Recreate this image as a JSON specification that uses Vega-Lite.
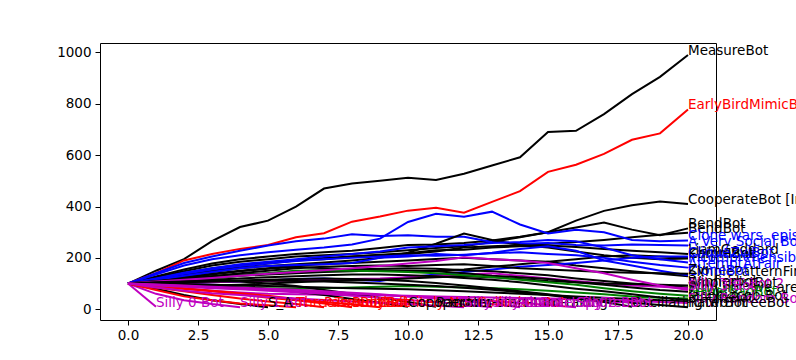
{
"$schema": "https://vega.github.io/schema/vega-lite/v6.json",
"width": 616, "height": 277,
"autosize": {"type": "none"},
"padding": {"left": 100, "top": 43, "right": 80, "bottom": 40},
"background": "white",
"config": {"view": {"stroke": "black", "strokeWidth": 1}, "font": "DejaVu Sans"},
"data": {"values": [
{"b":"MeasureBot","t":"k","r":0,"p":100},{"b":"MeasureBot","t":"k","r":1,"p":150},{"b":"MeasureBot","t":"k","r":2,"p":195},{"b":"MeasureBot","t":"k","r":3,"p":265},{"b":"MeasureBot","t":"k","r":4,"p":320},{"b":"MeasureBot","t":"k","r":5,"p":345},{"b":"MeasureBot","t":"k","r":6,"p":400},{"b":"MeasureBot","t":"k","r":7,"p":470},{"b":"MeasureBot","t":"k","r":8,"p":490},{"b":"MeasureBot","t":"k","r":9,"p":500},{"b":"MeasureBot","t":"k","r":10,"p":512},{"b":"MeasureBot","t":"k","r":11,"p":503},{"b":"MeasureBot","t":"k","r":12,"p":528},{"b":"MeasureBot","t":"k","r":13,"p":560},{"b":"MeasureBot","t":"k","r":14,"p":592},{"b":"MeasureBot","t":"k","r":15,"p":690},{"b":"MeasureBot","t":"k","r":16,"p":695},{"b":"MeasureBot","t":"k","r":17,"p":760},{"b":"MeasureBot","t":"k","r":18,"p":838},{"b":"MeasureBot","t":"k","r":19,"p":905},{"b":"MeasureBot","t":"k","r":20,"p":990},
{"b":"EarlyBirdMimicBot","t":"r","r":0,"p":100},{"b":"EarlyBirdMimicBot","t":"r","r":1,"p":140},{"b":"EarlyBirdMimicBot","t":"r","r":2,"p":190},{"b":"EarlyBirdMimicBot","t":"r","r":3,"p":215},{"b":"EarlyBirdMimicBot","t":"r","r":4,"p":235},{"b":"EarlyBirdMimicBot","t":"r","r":5,"p":250},{"b":"EarlyBirdMimicBot","t":"r","r":6,"p":280},{"b":"EarlyBirdMimicBot","t":"r","r":7,"p":296},{"b":"EarlyBirdMimicBot","t":"r","r":8,"p":341},{"b":"EarlyBirdMimicBot","t":"r","r":9,"p":361},{"b":"EarlyBirdMimicBot","t":"r","r":10,"p":384},{"b":"EarlyBirdMimicBot","t":"r","r":11,"p":395},{"b":"EarlyBirdMimicBot","t":"r","r":12,"p":376},{"b":"EarlyBirdMimicBot","t":"r","r":13,"p":418},{"b":"EarlyBirdMimicBot","t":"r","r":14,"p":460},{"b":"EarlyBirdMimicBot","t":"r","r":15,"p":535},{"b":"EarlyBirdMimicBot","t":"r","r":16,"p":563},{"b":"EarlyBirdMimicBot","t":"r","r":17,"p":605},{"b":"EarlyBirdMimicBot","t":"r","r":18,"p":660},{"b":"EarlyBirdMimicBot","t":"r","r":19,"p":685},{"b":"EarlyBirdMimicBot","t":"r","r":20,"p":778},
{"b":"CooperateBot [Insub]","t":"k","r":0,"p":100},{"b":"CooperateBot [Insub]","t":"k","r":1,"p":128},{"b":"CooperateBot [Insub]","t":"k","r":2,"p":155},{"b":"CooperateBot [Insub]","t":"k","r":3,"p":178},{"b":"CooperateBot [Insub]","t":"k","r":4,"p":195},{"b":"CooperateBot [Insub]","t":"k","r":5,"p":205},{"b":"CooperateBot [Insub]","t":"k","r":6,"p":215},{"b":"CooperateBot [Insub]","t":"k","r":7,"p":222},{"b":"CooperateBot [Insub]","t":"k","r":8,"p":228},{"b":"CooperateBot [Insub]","t":"k","r":9,"p":238},{"b":"CooperateBot [Insub]","t":"k","r":10,"p":250},{"b":"CooperateBot [Insub]","t":"k","r":11,"p":252},{"b":"CooperateBot [Insub]","t":"k","r":12,"p":258},{"b":"CooperateBot [Insub]","t":"k","r":13,"p":268},{"b":"CooperateBot [Insub]","t":"k","r":14,"p":282},{"b":"CooperateBot [Insub]","t":"k","r":15,"p":300},{"b":"CooperateBot [Insub]","t":"k","r":16,"p":345},{"b":"CooperateBot [Insub]","t":"k","r":17,"p":383},{"b":"CooperateBot [Insub]","t":"k","r":18,"p":405},{"b":"CooperateBot [Insub]","t":"k","r":19,"p":420},{"b":"CooperateBot [Insub]","t":"k","r":20,"p":410},
{"b":"BendBot","t":"k","r":0,"p":100},{"b":"BendBot","t":"k","r":1,"p":125},{"b":"BendBot","t":"k","r":2,"p":148},{"b":"BendBot","t":"k","r":3,"p":170},{"b":"BendBot","t":"k","r":4,"p":185},{"b":"BendBot","t":"k","r":5,"p":195},{"b":"BendBot","t":"k","r":6,"p":205},{"b":"BendBot","t":"k","r":7,"p":210},{"b":"BendBot","t":"k","r":8,"p":215},{"b":"BendBot","t":"k","r":9,"p":222},{"b":"BendBot","t":"k","r":10,"p":230},{"b":"BendBot","t":"k","r":11,"p":238},{"b":"BendBot","t":"k","r":12,"p":245},{"b":"BendBot","t":"k","r":13,"p":262},{"b":"BendBot","t":"k","r":14,"p":280},{"b":"BendBot","t":"k","r":15,"p":300},{"b":"BendBot","t":"k","r":16,"p":318},{"b":"BendBot","t":"k","r":17,"p":338},{"b":"BendBot","t":"k","r":18,"p":310},{"b":"BendBot","t":"k","r":19,"p":288},{"b":"BendBot","t":"k","r":20,"p":315},
{"b":"BendBot ","t":"k","r":0,"p":100},{"b":"BendBot ","t":"k","r":1,"p":120},{"b":"BendBot ","t":"k","r":2,"p":140},{"b":"BendBot ","t":"k","r":3,"p":160},{"b":"BendBot ","t":"k","r":4,"p":172},{"b":"BendBot ","t":"k","r":5,"p":182},{"b":"BendBot ","t":"k","r":6,"p":190},{"b":"BendBot ","t":"k","r":7,"p":200},{"b":"BendBot ","t":"k","r":8,"p":205},{"b":"BendBot ","t":"k","r":9,"p":210},{"b":"BendBot ","t":"k","r":10,"p":215},{"b":"BendBot ","t":"k","r":11,"p":225},{"b":"BendBot ","t":"k","r":12,"p":240},{"b":"BendBot ","t":"k","r":13,"p":245},{"b":"BendBot ","t":"k","r":14,"p":250},{"b":"BendBot ","t":"k","r":15,"p":255},{"b":"BendBot ","t":"k","r":16,"p":262},{"b":"BendBot ","t":"k","r":17,"p":270},{"b":"BendBot ","t":"k","r":18,"p":280},{"b":"BendBot ","t":"k","r":19,"p":290},{"b":"BendBot ","t":"k","r":20,"p":298},
{"b":"Clone wars, episode return 3","t":"b","r":0,"p":100},{"b":"Clone wars, episode return 3","t":"b","r":1,"p":135},{"b":"Clone wars, episode return 3","t":"b","r":2,"p":170},{"b":"Clone wars, episode return 3","t":"b","r":3,"p":195},{"b":"Clone wars, episode return 3","t":"b","r":4,"p":210},{"b":"Clone wars, episode return 3","t":"b","r":5,"p":222},{"b":"Clone wars, episode return 3","t":"b","r":6,"p":232},{"b":"Clone wars, episode return 3","t":"b","r":7,"p":240},{"b":"Clone wars, episode return 3","t":"b","r":8,"p":252},{"b":"Clone wars, episode return 3","t":"b","r":9,"p":275},{"b":"Clone wars, episode return 3","t":"b","r":10,"p":340},{"b":"Clone wars, episode return 3","t":"b","r":11,"p":372},{"b":"Clone wars, episode return 3","t":"b","r":12,"p":360},{"b":"Clone wars, episode return 3","t":"b","r":13,"p":380},{"b":"Clone wars, episode return 3","t":"b","r":14,"p":330},{"b":"Clone wars, episode return 3","t":"b","r":15,"p":295},{"b":"Clone wars, episode return 3","t":"b","r":16,"p":310},{"b":"Clone wars, episode return 3","t":"b","r":17,"p":300},{"b":"Clone wars, episode return 3","t":"b","r":18,"p":270},{"b":"Clone wars, episode return 3","t":"b","r":19,"p":265},{"b":"Clone wars, episode return 3","t":"b","r":20,"p":268},
{"b":"A Very Social Bot","t":"b","r":0,"p":100},{"b":"A Very Social Bot","t":"b","r":1,"p":140},{"b":"A Very Social Bot","t":"b","r":2,"p":180},{"b":"A Very Social Bot","t":"b","r":3,"p":205},{"b":"A Very Social Bot","t":"b","r":4,"p":228},{"b":"A Very Social Bot","t":"b","r":5,"p":248},{"b":"A Very Social Bot","t":"b","r":6,"p":265},{"b":"A Very Social Bot","t":"b","r":7,"p":275},{"b":"A Very Social Bot","t":"b","r":8,"p":292},{"b":"A Very Social Bot","t":"b","r":9,"p":285},{"b":"A Very Social Bot","t":"b","r":10,"p":288},{"b":"A Very Social Bot","t":"b","r":11,"p":282},{"b":"A Very Social Bot","t":"b","r":12,"p":282},{"b":"A Very Social Bot","t":"b","r":13,"p":262},{"b":"A Very Social Bot","t":"b","r":14,"p":255},{"b":"A Very Social Bot","t":"b","r":15,"p":258},{"b":"A Very Social Bot","t":"b","r":16,"p":250},{"b":"A Very Social Bot","t":"b","r":17,"p":248},{"b":"A Very Social Bot","t":"b","r":18,"p":252},{"b":"A Very Social Bot","t":"b","r":19,"p":250},{"b":"A Very Social Bot","t":"b","r":20,"p":248},
{"b":"LiamGoddard","t":"k","r":0,"p":100},{"b":"LiamGoddard","t":"k","r":1,"p":118},{"b":"LiamGoddard","t":"k","r":2,"p":135},{"b":"LiamGoddard","t":"k","r":3,"p":150},{"b":"LiamGoddard","t":"k","r":4,"p":165},{"b":"LiamGoddard","t":"k","r":5,"p":178},{"b":"LiamGoddard","t":"k","r":6,"p":190},{"b":"LiamGoddard","t":"k","r":7,"p":195},{"b":"LiamGoddard","t":"k","r":8,"p":205},{"b":"LiamGoddard","t":"k","r":9,"p":212},{"b":"LiamGoddard","t":"k","r":10,"p":218},{"b":"LiamGoddard","t":"k","r":11,"p":230},{"b":"LiamGoddard","t":"k","r":12,"p":232},{"b":"LiamGoddard","t":"k","r":13,"p":240},{"b":"LiamGoddard","t":"k","r":14,"p":245},{"b":"LiamGoddard","t":"k","r":15,"p":248},{"b":"LiamGoddard","t":"k","r":16,"p":242},{"b":"LiamGoddard","t":"k","r":17,"p":235},{"b":"LiamGoddard","t":"k","r":18,"p":228},{"b":"LiamGoddard","t":"k","r":19,"p":222},{"b":"LiamGoddard","t":"k","r":20,"p":215},
{"b":"KarmaBot","t":"k","r":0,"p":100},{"b":"KarmaBot","t":"k","r":1,"p":115},{"b":"KarmaBot","t":"k","r":2,"p":130},{"b":"KarmaBot","t":"k","r":3,"p":145},{"b":"KarmaBot","t":"k","r":4,"p":160},{"b":"KarmaBot","t":"k","r":5,"p":168},{"b":"KarmaBot","t":"k","r":6,"p":175},{"b":"KarmaBot","t":"k","r":7,"p":182},{"b":"KarmaBot","t":"k","r":8,"p":190},{"b":"KarmaBot","t":"k","r":9,"p":200},{"b":"KarmaBot","t":"k","r":10,"p":220},{"b":"KarmaBot","t":"k","r":11,"p":255},{"b":"KarmaBot","t":"k","r":12,"p":295},{"b":"KarmaBot","t":"k","r":13,"p":270},{"b":"KarmaBot","t":"k","r":14,"p":250},{"b":"KarmaBot","t":"k","r":15,"p":240},{"b":"KarmaBot","t":"k","r":16,"p":225},{"b":"KarmaBot","t":"k","r":17,"p":210},{"b":"KarmaBot","t":"k","r":18,"p":200},{"b":"KarmaBot","t":"k","r":19,"p":195},{"b":"KarmaBot","t":"k","r":20,"p":198},
{"b":"Chipmonk","t":"k","r":0,"p":100},{"b":"Chipmonk","t":"k","r":1,"p":110},{"b":"Chipmonk","t":"k","r":2,"p":122},{"b":"Chipmonk","t":"k","r":3,"p":135},{"b":"Chipmonk","t":"k","r":4,"p":148},{"b":"Chipmonk","t":"k","r":5,"p":158},{"b":"Chipmonk","t":"k","r":6,"p":165},{"b":"Chipmonk","t":"k","r":7,"p":160},{"b":"Chipmonk","t":"k","r":8,"p":155},{"b":"Chipmonk","t":"k","r":9,"p":150},{"b":"Chipmonk","t":"k","r":10,"p":148},{"b":"Chipmonk","t":"k","r":11,"p":150},{"b":"Chipmonk","t":"k","r":12,"p":155},{"b":"Chipmonk","t":"k","r":13,"p":165},{"b":"Chipmonk","t":"k","r":14,"p":175},{"b":"Chipmonk","t":"k","r":15,"p":185},{"b":"Chipmonk","t":"k","r":16,"p":195},{"b":"Chipmonk","t":"k","r":17,"p":205},{"b":"Chipmonk","t":"k","r":18,"p":210},{"b":"Chipmonk","t":"k","r":19,"p":205},{"b":"Chipmonk","t":"k","r":20,"p":200},
{"b":"incomprehensibot","t":"b","r":0,"p":100},{"b":"incomprehensibot","t":"b","r":1,"p":120},{"b":"incomprehensibot","t":"b","r":2,"p":142},{"b":"incomprehensibot","t":"b","r":3,"p":160},{"b":"incomprehensibot","t":"b","r":4,"p":175},{"b":"incomprehensibot","t":"b","r":5,"p":185},{"b":"incomprehensibot","t":"b","r":6,"p":195},{"b":"incomprehensibot","t":"b","r":7,"p":205},{"b":"incomprehensibot","t":"b","r":8,"p":215},{"b":"incomprehensibot","t":"b","r":9,"p":225},{"b":"incomprehensibot","t":"b","r":10,"p":240},{"b":"incomprehensibot","t":"b","r":11,"p":245},{"b":"incomprehensibot","t":"b","r":12,"p":250},{"b":"incomprehensibot","t":"b","r":13,"p":258},{"b":"incomprehensibot","t":"b","r":14,"p":262},{"b":"incomprehensibot","t":"b","r":15,"p":270},{"b":"incomprehensibot","t":"b","r":16,"p":265},{"b":"incomprehensibot","t":"b","r":17,"p":240},{"b":"incomprehensibot","t":"b","r":18,"p":210},{"b":"incomprehensibot","t":"b","r":19,"p":195},{"b":"incomprehensibot","t":"b","r":20,"p":182},
{"b":"AttemptAtFair","t":"b","r":0,"p":100},{"b":"AttemptAtFair","t":"b","r":1,"p":118},{"b":"AttemptAtFair","t":"b","r":2,"p":138},{"b":"AttemptAtFair","t":"b","r":3,"p":155},{"b":"AttemptAtFair","t":"b","r":4,"p":168},{"b":"AttemptAtFair","t":"b","r":5,"p":178},{"b":"AttemptAtFair","t":"b","r":6,"p":188},{"b":"AttemptAtFair","t":"b","r":7,"p":195},{"b":"AttemptAtFair","t":"b","r":8,"p":200},{"b":"AttemptAtFair","t":"b","r":9,"p":205},{"b":"AttemptAtFair","t":"b","r":10,"p":210},{"b":"AttemptAtFair","t":"b","r":11,"p":208},{"b":"AttemptAtFair","t":"b","r":12,"p":212},{"b":"AttemptAtFair","t":"b","r":13,"p":218},{"b":"AttemptAtFair","t":"b","r":14,"p":222},{"b":"AttemptAtFair","t":"b","r":15,"p":215},{"b":"AttemptAtFair","t":"b","r":16,"p":210},{"b":"AttemptAtFair","t":"b","r":17,"p":200},{"b":"AttemptAtFair","t":"b","r":18,"p":185},{"b":"AttemptAtFair","t":"b","r":19,"p":172},{"b":"AttemptAtFair","t":"b","r":20,"p":162},
{"b":"SimplePatternFinderBot","t":"k","r":0,"p":100},{"b":"SimplePatternFinderBot","t":"k","r":1,"p":112},{"b":"SimplePatternFinderBot","t":"k","r":2,"p":125},{"b":"SimplePatternFinderBot","t":"k","r":3,"p":138},{"b":"SimplePatternFinderBot","t":"k","r":4,"p":150},{"b":"SimplePatternFinderBot","t":"k","r":5,"p":160},{"b":"SimplePatternFinderBot","t":"k","r":6,"p":170},{"b":"SimplePatternFinderBot","t":"k","r":7,"p":175},{"b":"SimplePatternFinderBot","t":"k","r":8,"p":180},{"b":"SimplePatternFinderBot","t":"k","r":9,"p":185},{"b":"SimplePatternFinderBot","t":"k","r":10,"p":190},{"b":"SimplePatternFinderBot","t":"k","r":11,"p":196},{"b":"SimplePatternFinderBot","t":"k","r":12,"p":200},{"b":"SimplePatternFinderBot","t":"k","r":13,"p":195},{"b":"SimplePatternFinderBot","t":"k","r":14,"p":190},{"b":"SimplePatternFinderBot","t":"k","r":15,"p":185},{"b":"SimplePatternFinderBot","t":"k","r":16,"p":170},{"b":"SimplePatternFinderBot","t":"k","r":17,"p":160},{"b":"SimplePatternFinderBot","t":"k","r":18,"p":148},{"b":"SimplePatternFinderBot","t":"k","r":19,"p":138},{"b":"SimplePatternFinderBot","t":"k","r":20,"p":128},
{"b":"CloneBot","t":"b","r":0,"p":100},{"b":"CloneBot","t":"b","r":1,"p":115},{"b":"CloneBot","t":"b","r":2,"p":130},{"b":"CloneBot","t":"b","r":3,"p":145},{"b":"CloneBot","t":"b","r":4,"p":160},{"b":"CloneBot","t":"b","r":5,"p":168},{"b":"CloneBot","t":"b","r":6,"p":172},{"b":"CloneBot","t":"b","r":7,"p":175},{"b":"CloneBot","t":"b","r":8,"p":180},{"b":"CloneBot","t":"b","r":9,"p":200},{"b":"CloneBot","t":"b","r":10,"p":205},{"b":"CloneBot","t":"b","r":11,"p":215},{"b":"CloneBot","t":"b","r":12,"p":210},{"b":"CloneBot","t":"b","r":13,"p":220},{"b":"CloneBot","t":"b","r":14,"p":235},{"b":"CloneBot","t":"b","r":15,"p":245},{"b":"CloneBot","t":"b","r":16,"p":228},{"b":"CloneBot","t":"b","r":17,"p":190},{"b":"CloneBot","t":"b","r":18,"p":170},{"b":"CloneBot","t":"b","r":19,"p":150},{"b":"CloneBot","t":"b","r":20,"p":132},
{"b":"CliqueZviBot","t":"b","r":0,"p":100},{"b":"CliqueZviBot","t":"b","r":1,"p":98},{"b":"CliqueZviBot","t":"b","r":2,"p":100},{"b":"CliqueZviBot","t":"b","r":3,"p":105},{"b":"CliqueZviBot","t":"b","r":4,"p":108},{"b":"CliqueZviBot","t":"b","r":5,"p":112},{"b":"CliqueZviBot","t":"b","r":6,"p":118},{"b":"CliqueZviBot","t":"b","r":7,"p":120},{"b":"CliqueZviBot","t":"b","r":8,"p":115},{"b":"CliqueZviBot","t":"b","r":9,"p":110},{"b":"CliqueZviBot","t":"b","r":10,"p":125},{"b":"CliqueZviBot","t":"b","r":11,"p":135},{"b":"CliqueZviBot","t":"b","r":12,"p":145},{"b":"CliqueZviBot","t":"b","r":13,"p":155},{"b":"CliqueZviBot","t":"b","r":14,"p":165},{"b":"CliqueZviBot","t":"b","r":15,"p":172},{"b":"CliqueZviBot","t":"b","r":16,"p":180},{"b":"CliqueZviBot","t":"b","r":17,"p":190},{"b":"CliqueZviBot","t":"b","r":18,"p":200},{"b":"CliqueZviBot","t":"b","r":19,"p":205},{"b":"CliqueZviBot","t":"b","r":20,"p":205},
{"b":"Zvi","t":"k","r":0,"p":100},{"b":"Zvi","t":"k","r":1,"p":108},{"b":"Zvi","t":"k","r":2,"p":118},{"b":"Zvi","t":"k","r":3,"p":128},{"b":"Zvi","t":"k","r":4,"p":140},{"b":"Zvi","t":"k","r":5,"p":150},{"b":"Zvi","t":"k","r":6,"p":160},{"b":"Zvi","t":"k","r":7,"p":165},{"b":"Zvi","t":"k","r":8,"p":168},{"b":"Zvi","t":"k","r":9,"p":170},{"b":"Zvi","t":"k","r":10,"p":168},{"b":"Zvi","t":"k","r":11,"p":172},{"b":"Zvi","t":"k","r":12,"p":175},{"b":"Zvi","t":"k","r":13,"p":168},{"b":"Zvi","t":"k","r":14,"p":160},{"b":"Zvi","t":"k","r":15,"p":155},{"b":"Zvi","t":"k","r":16,"p":150},{"b":"Zvi","t":"k","r":17,"p":145},{"b":"Zvi","t":"k","r":18,"p":142},{"b":"Zvi","t":"k","r":19,"p":140},{"b":"Zvi","t":"k","r":20,"p":138},
{"b":"EmpiricistBot","t":"k","r":0,"p":100},{"b":"EmpiricistBot","t":"k","r":1,"p":110},{"b":"EmpiricistBot","t":"k","r":2,"p":118},{"b":"EmpiricistBot","t":"k","r":3,"p":128},{"b":"EmpiricistBot","t":"k","r":4,"p":135},{"b":"EmpiricistBot","t":"k","r":5,"p":140},{"b":"EmpiricistBot","t":"k","r":6,"p":148},{"b":"EmpiricistBot","t":"k","r":7,"p":152},{"b":"EmpiricistBot","t":"k","r":8,"p":155},{"b":"EmpiricistBot","t":"k","r":9,"p":158},{"b":"EmpiricistBot","t":"k","r":10,"p":160},{"b":"EmpiricistBot","t":"k","r":11,"p":158},{"b":"EmpiricistBot","t":"k","r":12,"p":152},{"b":"EmpiricistBot","t":"k","r":13,"p":148},{"b":"EmpiricistBot","t":"k","r":14,"p":140},{"b":"EmpiricistBot","t":"k","r":15,"p":132},{"b":"EmpiricistBot","t":"k","r":16,"p":120},{"b":"EmpiricistBot","t":"k","r":17,"p":110},{"b":"EmpiricistBot","t":"k","r":18,"p":100},{"b":"EmpiricistBot","t":"k","r":19,"p":92},{"b":"EmpiricistBot","t":"k","r":20,"p":85},
{"b":"Silly TFT Bot 2","t":"m","r":0,"p":100},{"b":"Silly TFT Bot 2","t":"m","r":1,"p":100},{"b":"Silly TFT Bot 2","t":"m","r":2,"p":102},{"b":"Silly TFT Bot 2","t":"m","r":3,"p":105},{"b":"Silly TFT Bot 2","t":"m","r":4,"p":108},{"b":"Silly TFT Bot 2","t":"m","r":5,"p":110},{"b":"Silly TFT Bot 2","t":"m","r":6,"p":112},{"b":"Silly TFT Bot 2","t":"m","r":7,"p":115},{"b":"Silly TFT Bot 2","t":"m","r":8,"p":118},{"b":"Silly TFT Bot 2","t":"m","r":9,"p":120},{"b":"Silly TFT Bot 2","t":"m","r":10,"p":125},{"b":"Silly TFT Bot 2","t":"m","r":11,"p":130},{"b":"Silly TFT Bot 2","t":"m","r":12,"p":135},{"b":"Silly TFT Bot 2","t":"m","r":13,"p":140},{"b":"Silly TFT Bot 2","t":"m","r":14,"p":130},{"b":"Silly TFT Bot 2","t":"m","r":15,"p":120},{"b":"Silly TFT Bot 2","t":"m","r":16,"p":110},{"b":"Silly TFT Bot 2","t":"m","r":17,"p":100},{"b":"Silly TFT Bot 2","t":"m","r":18,"p":92},{"b":"Silly TFT Bot 2","t":"m","r":19,"p":88},{"b":"Silly TFT Bot 2","t":"m","r":20,"p":82},
{"b":"Why not, we are","t":"k","r":0,"p":100},{"b":"Why not, we are","t":"k","r":1,"p":108},{"b":"Why not, we are","t":"k","r":2,"p":115},{"b":"Why not, we are","t":"k","r":3,"p":122},{"b":"Why not, we are","t":"k","r":4,"p":130},{"b":"Why not, we are","t":"k","r":5,"p":135},{"b":"Why not, we are","t":"k","r":6,"p":140},{"b":"Why not, we are","t":"k","r":7,"p":145},{"b":"Why not, we are","t":"k","r":8,"p":148},{"b":"Why not, we are","t":"k","r":9,"p":152},{"b":"Why not, we are","t":"k","r":10,"p":150},{"b":"Why not, we are","t":"k","r":11,"p":148},{"b":"Why not, we are","t":"k","r":12,"p":140},{"b":"Why not, we are","t":"k","r":13,"p":130},{"b":"Why not, we are","t":"k","r":14,"p":125},{"b":"Why not, we are","t":"k","r":15,"p":118},{"b":"Why not, we are","t":"k","r":16,"p":105},{"b":"Why not, we are","t":"k","r":17,"p":95},{"b":"Why not, we are","t":"k","r":18,"p":85},{"b":"Why not, we are","t":"k","r":19,"p":75},{"b":"Why not, we are","t":"k","r":20,"p":68},
{"b":"Winnerbot","t":"k","r":0,"p":100},{"b":"Winnerbot","t":"k","r":1,"p":95},{"b":"Winnerbot","t":"k","r":2,"p":92},{"b":"Winnerbot","t":"k","r":3,"p":92},{"b":"Winnerbot","t":"k","r":4,"p":95},{"b":"Winnerbot","t":"k","r":5,"p":100},{"b":"Winnerbot","t":"k","r":6,"p":105},{"b":"Winnerbot","t":"k","r":7,"p":110},{"b":"Winnerbot","t":"k","r":8,"p":112},{"b":"Winnerbot","t":"k","r":9,"p":115},{"b":"Winnerbot","t":"k","r":10,"p":120},{"b":"Winnerbot","t":"k","r":11,"p":125},{"b":"Winnerbot","t":"k","r":12,"p":128},{"b":"Winnerbot","t":"k","r":13,"p":125},{"b":"Winnerbot","t":"k","r":14,"p":118},{"b":"Winnerbot","t":"k","r":15,"p":110},{"b":"Winnerbot","t":"k","r":16,"p":105},{"b":"Winnerbot","t":"k","r":17,"p":100},{"b":"Winnerbot","t":"k","r":18,"p":98},{"b":"Winnerbot","t":"k","r":19,"p":95},{"b":"Winnerbot","t":"k","r":20,"p":92},
{"b":"LeviathanBot","t":"g","r":0,"p":100},{"b":"LeviathanBot","t":"g","r":1,"p":105},{"b":"LeviathanBot","t":"g","r":2,"p":112},{"b":"LeviathanBot","t":"g","r":3,"p":120},{"b":"LeviathanBot","t":"g","r":4,"p":130},{"b":"LeviathanBot","t":"g","r":5,"p":140},{"b":"LeviathanBot","t":"g","r":6,"p":150},{"b":"LeviathanBot","t":"g","r":7,"p":152},{"b":"LeviathanBot","t":"g","r":8,"p":150},{"b":"LeviathanBot","t":"g","r":9,"p":148},{"b":"LeviathanBot","t":"g","r":10,"p":145},{"b":"LeviathanBot","t":"g","r":11,"p":140},{"b":"LeviathanBot","t":"g","r":12,"p":132},{"b":"LeviathanBot","t":"g","r":13,"p":125},{"b":"LeviathanBot","t":"g","r":14,"p":115},{"b":"LeviathanBot","t":"g","r":15,"p":105},{"b":"LeviathanBot","t":"g","r":16,"p":95},{"b":"LeviathanBot","t":"g","r":17,"p":82},{"b":"LeviathanBot","t":"g","r":18,"p":70},{"b":"LeviathanBot","t":"g","r":19,"p":60},{"b":"LeviathanBot","t":"g","r":20,"p":52},
{"b":"Insub","t":"g","r":0,"p":100},{"b":"Insub","t":"g","r":1,"p":95},{"b":"Insub","t":"g","r":2,"p":90},{"b":"Insub","t":"g","r":3,"p":88},{"b":"Insub","t":"g","r":4,"p":85},{"b":"Insub","t":"g","r":5,"p":82},{"b":"Insub","t":"g","r":6,"p":80},{"b":"Insub","t":"g","r":7,"p":82},{"b":"Insub","t":"g","r":8,"p":85},{"b":"Insub","t":"g","r":9,"p":88},{"b":"Insub","t":"g","r":10,"p":90},{"b":"Insub","t":"g","r":11,"p":88},{"b":"Insub","t":"g","r":12,"p":85},{"b":"Insub","t":"g","r":13,"p":82},{"b":"Insub","t":"g","r":14,"p":78},{"b":"Insub","t":"g","r":15,"p":72},{"b":"Insub","t":"g","r":16,"p":65},{"b":"Insub","t":"g","r":17,"p":58},{"b":"Insub","t":"g","r":18,"p":50},{"b":"Insub","t":"g","r":19,"p":45},{"b":"Insub","t":"g","r":20,"p":42},
{"b":"jacobjacob-Bot","t":"k","r":0,"p":100},{"b":"jacobjacob-Bot","t":"k","r":1,"p":105},{"b":"jacobjacob-Bot","t":"k","r":2,"p":110},{"b":"jacobjacob-Bot","t":"k","r":3,"p":115},{"b":"jacobjacob-Bot","t":"k","r":4,"p":120},{"b":"jacobjacob-Bot","t":"k","r":5,"p":125},{"b":"jacobjacob-Bot","t":"k","r":6,"p":128},{"b":"jacobjacob-Bot","t":"k","r":7,"p":132},{"b":"jacobjacob-Bot","t":"k","r":8,"p":135},{"b":"jacobjacob-Bot","t":"k","r":9,"p":135},{"b":"jacobjacob-Bot","t":"k","r":10,"p":132},{"b":"jacobjacob-Bot","t":"k","r":11,"p":128},{"b":"jacobjacob-Bot","t":"k","r":12,"p":122},{"b":"jacobjacob-Bot","t":"k","r":13,"p":115},{"b":"jacobjacob-Bot","t":"k","r":14,"p":105},{"b":"jacobjacob-Bot","t":"k","r":15,"p":92},{"b":"jacobjacob-Bot","t":"k","r":16,"p":80},{"b":"jacobjacob-Bot","t":"k","r":17,"p":70},{"b":"jacobjacob-Bot","t":"k","r":18,"p":58},{"b":"jacobjacob-Bot","t":"k","r":19,"p":46},{"b":"jacobjacob-Bot","t":"k","r":20,"p":36},
{"b":"MatrixBot","t":"k","r":0,"p":100},{"b":"MatrixBot","t":"k","r":1,"p":100},{"b":"MatrixBot","t":"k","r":2,"p":98},{"b":"MatrixBot","t":"k","r":3,"p":95},{"b":"MatrixBot","t":"k","r":4,"p":92},{"b":"MatrixBot","t":"k","r":5,"p":90},{"b":"MatrixBot","t":"k","r":6,"p":88},{"b":"MatrixBot","t":"k","r":7,"p":85},{"b":"MatrixBot","t":"k","r":8,"p":82},{"b":"MatrixBot","t":"k","r":9,"p":80},{"b":"MatrixBot","t":"k","r":10,"p":78},{"b":"MatrixBot","t":"k","r":11,"p":74},{"b":"MatrixBot","t":"k","r":12,"p":70},{"b":"MatrixBot","t":"k","r":13,"p":65},{"b":"MatrixBot","t":"k","r":14,"p":60},{"b":"MatrixBot","t":"k","r":15,"p":55},{"b":"MatrixBot","t":"k","r":16,"p":50},{"b":"MatrixBot","t":"k","r":17,"p":45},{"b":"MatrixBot","t":"k","r":18,"p":40},{"b":"MatrixBot","t":"k","r":19,"p":35},{"b":"MatrixBot","t":"k","r":20,"p":30},
{"b":"Silly Random Bot","t":"m","r":0,"p":100},{"b":"Silly Random Bot","t":"m","r":1,"p":90},{"b":"Silly Random Bot","t":"m","r":2,"p":80},{"b":"Silly Random Bot","t":"m","r":3,"p":72},{"b":"Silly Random Bot","t":"m","r":4,"p":65},{"b":"Silly Random Bot","t":"m","r":5,"p":60},{"b":"Silly Random Bot","t":"m","r":6,"p":58},{"b":"Silly Random Bot","t":"m","r":7,"p":56},{"b":"Silly Random Bot","t":"m","r":8,"p":55},{"b":"Silly Random Bot","t":"m","r":9,"p":54},{"b":"Silly Random Bot","t":"m","r":10,"p":52},{"b":"Silly Random Bot","t":"m","r":11,"p":50},{"b":"Silly Random Bot","t":"m","r":12,"p":48},{"b":"Silly Random Bot","t":"m","r":13,"p":46},{"b":"Silly Random Bot","t":"m","r":14,"p":44},{"b":"Silly Random Bot","t":"m","r":15,"p":42},{"b":"Silly Random Bot","t":"m","r":16,"p":40},{"b":"Silly Random Bot","t":"m","r":17,"p":36},{"b":"Silly Random Bot","t":"m","r":18,"p":32},{"b":"Silly Random Bot","t":"m","r":19,"p":28},{"b":"Silly Random Bot","t":"m","r":20,"p":24},
{"b":"Silly 3 Bot","t":"m","r":0,"p":100},{"b":"Silly 3 Bot","t":"m","r":1,"p":108},{"b":"Silly 3 Bot","t":"m","r":2,"p":115},{"b":"Silly 3 Bot","t":"m","r":3,"p":122},{"b":"Silly 3 Bot","t":"m","r":4,"p":130},{"b":"Silly 3 Bot","t":"m","r":5,"p":138},{"b":"Silly 3 Bot","t":"m","r":6,"p":145},{"b":"Silly 3 Bot","t":"m","r":7,"p":152},{"b":"Silly 3 Bot","t":"m","r":8,"p":160},{"b":"Silly 3 Bot","t":"m","r":9,"p":168},{"b":"Silly 3 Bot","t":"m","r":10,"p":178},{"b":"Silly 3 Bot","t":"m","r":11,"p":188},{"b":"Silly 3 Bot","t":"m","r":12,"p":202},{"b":"Silly 3 Bot","t":"m","r":13,"p":195},{"b":"Silly 3 Bot","t":"m","r":14,"p":190},{"b":"Silly 3 Bot","t":"m","r":15,"p":180},{"b":"Silly 3 Bot","t":"m","r":16,"p":160},{"b":"Silly 3 Bot","t":"m","r":17,"p":140},{"b":"Silly 3 Bot","t":"m","r":18,"p":115},{"b":"Silly 3 Bot","t":"m","r":19,"p":92},{"b":"Silly 3 Bot","t":"m","r":20,"p":75},
{"b":"RaterBot","t":"k","r":0,"p":100},{"b":"RaterBot","t":"k","r":1,"p":103},{"b":"RaterBot","t":"k","r":2,"p":106},{"b":"RaterBot","t":"k","r":3,"p":110},{"b":"RaterBot","t":"k","r":4,"p":112},{"b":"RaterBot","t":"k","r":5,"p":115},{"b":"RaterBot","t":"k","r":6,"p":118},{"b":"RaterBot","t":"k","r":7,"p":120},{"b":"RaterBot","t":"k","r":8,"p":118},{"b":"RaterBot","t":"k","r":9,"p":115},{"b":"RaterBot","t":"k","r":10,"p":110},{"b":"RaterBot","t":"k","r":11,"p":102},{"b":"RaterBot","t":"k","r":12,"p":92},{"b":"RaterBot","t":"k","r":13,"p":82},{"b":"RaterBot","t":"k","r":14,"p":70},{"b":"RaterBot","t":"k","r":15,"p":58},{"b":"RaterBot","t":"k","r":16,"p":45},{"b":"RaterBot","t":"k","r":17,"p":35},{"b":"RaterBot","t":"k","r":18,"p":25},{"b":"RaterBot","t":"k","r":19,"p":16},{"b":"RaterBot","t":"k","r":20,"p":8},
{"b":"OscillatingTwoThreeBot","t":"k","r":0,"p":100},{"b":"OscillatingTwoThreeBot","t":"k","r":1,"p":102},{"b":"OscillatingTwoThreeBot","t":"k","r":2,"p":105},{"b":"OscillatingTwoThreeBot","t":"k","r":3,"p":108},{"b":"OscillatingTwoThreeBot","t":"k","r":4,"p":110},{"b":"OscillatingTwoThreeBot","t":"k","r":5,"p":112},{"b":"OscillatingTwoThreeBot","t":"k","r":6,"p":110},{"b":"OscillatingTwoThreeBot","t":"k","r":7,"p":108},{"b":"OscillatingTwoThreeBot","t":"k","r":8,"p":104},{"b":"OscillatingTwoThreeBot","t":"k","r":9,"p":100},{"b":"OscillatingTwoThreeBot","t":"k","r":10,"p":95},{"b":"OscillatingTwoThreeBot","t":"k","r":11,"p":90},{"b":"OscillatingTwoThreeBot","t":"k","r":12,"p":84},{"b":"OscillatingTwoThreeBot","t":"k","r":13,"p":76},{"b":"OscillatingTwoThreeBot","t":"k","r":14,"p":66},{"b":"OscillatingTwoThreeBot","t":"k","r":15,"p":55},{"b":"OscillatingTwoThreeBot","t":"k","r":16,"p":42},{"b":"OscillatingTwoThreeBot","t":"k","r":17,"p":28},{"b":"OscillatingTwoThreeBot","t":"k","r":18,"p":10},
{"b":"Silly 0 Bot","t":"m","r":0,"p":100},{"b":"Silly 0 Bot","t":"m","r":1,"p":10},
{"b":"Silly 1 Bot","t":"m","r":0,"p":100},{"b":"Silly 1 Bot","t":"m","r":1,"p":60},{"b":"Silly 1 Bot","t":"m","r":2,"p":35},{"b":"Silly 1 Bot","t":"m","r":3,"p":20},{"b":"Silly 1 Bot","t":"m","r":4,"p":8},
{"b":"S_A","t":"k","r":0,"p":100},{"b":"S_A","t":"k","r":1,"p":80},{"b":"S_A","t":"k","r":2,"p":55},{"b":"S_A","t":"k","r":3,"p":35},{"b":"S_A","t":"k","r":4,"p":20},{"b":"S_A","t":"k","r":5,"p":8},
{"b":"ThreeTwoBot","t":"r","r":0,"p":100},{"b":"ThreeTwoBot","t":"r","r":1,"p":75},{"b":"ThreeTwoBot","t":"r","r":2,"p":50},{"b":"ThreeTwoBot","t":"r","r":3,"p":35},{"b":"ThreeTwoBot","t":"r","r":4,"p":22},{"b":"ThreeTwoBot","t":"r","r":5,"p":15},{"b":"ThreeTwoBot","t":"r","r":6,"p":8},
{"b":"PasswordBot","t":"r","r":0,"p":100},{"b":"PasswordBot","t":"r","r":1,"p":85},{"b":"PasswordBot","t":"r","r":2,"p":70},{"b":"PasswordBot","t":"r","r":3,"p":55},{"b":"PasswordBot","t":"r","r":4,"p":42},{"b":"PasswordBot","t":"r","r":5,"p":30},{"b":"PasswordBot","t":"r","r":6,"p":20},{"b":"PasswordBot","t":"r","r":7,"p":8},
{"b":"BullyBot","t":"r","r":0,"p":100},{"b":"BullyBot","t":"r","r":1,"p":90},{"b":"BullyBot","t":"r","r":2,"p":80},{"b":"BullyBot","t":"r","r":3,"p":70},{"b":"BullyBot","t":"r","r":4,"p":58},{"b":"BullyBot","t":"r","r":5,"p":45},{"b":"BullyBot","t":"r","r":6,"p":35},{"b":"BullyBot","t":"r","r":7,"p":22},{"b":"BullyBot","t":"r","r":8,"p":8},
{"b":"Definitely Not Collusion Bot","t":"r","r":0,"p":100},{"b":"Definitely Not Collusion Bot","t":"r","r":1,"p":92},{"b":"Definitely Not Collusion Bot","t":"r","r":2,"p":82},{"b":"Definitely Not Collusion Bot","t":"r","r":3,"p":72},{"b":"Definitely Not Collusion Bot","t":"r","r":4,"p":62},{"b":"Definitely Not Collusion Bot","t":"r","r":5,"p":52},{"b":"Definitely Not Collusion Bot","t":"r","r":6,"p":40},{"b":"Definitely Not Collusion Bot","t":"r","r":7,"p":28},{"b":"Definitely Not Collusion Bot","t":"r","r":8,"p":18},{"b":"Definitely Not Collusion Bot","t":"r","r":9,"p":8},
{"b":"Copoperater","t":"k","r":0,"p":100},{"b":"Copoperater","t":"k","r":1,"p":98},{"b":"Copoperater","t":"k","r":2,"p":95},{"b":"Copoperater","t":"k","r":3,"p":90},{"b":"Copoperater","t":"k","r":4,"p":85},{"b":"Copoperater","t":"k","r":5,"p":78},{"b":"Copoperater","t":"k","r":6,"p":68},{"b":"Copoperater","t":"k","r":7,"p":55},{"b":"Copoperater","t":"k","r":8,"p":40},{"b":"Copoperater","t":"k","r":9,"p":25},{"b":"Copoperater","t":"k","r":10,"p":10},
{"b":"Random-start-turn-taking","t":"k","r":0,"p":100},{"b":"Random-start-turn-taking","t":"k","r":1,"p":105},{"b":"Random-start-turn-taking","t":"k","r":2,"p":108},{"b":"Random-start-turn-taking","t":"k","r":3,"p":110},{"b":"Random-start-turn-taking","t":"k","r":4,"p":108},{"b":"Random-start-turn-taking","t":"k","r":5,"p":100},{"b":"Random-start-turn-taking","t":"k","r":6,"p":90},{"b":"Random-start-turn-taking","t":"k","r":7,"p":75},{"b":"Random-start-turn-taking","t":"k","r":8,"p":60},{"b":"Random-start-turn-taking","t":"k","r":9,"p":45},{"b":"Random-start-turn-taking","t":"k","r":10,"p":28},{"b":"Random-start-turn-taking","t":"k","r":11,"p":10},
{"b":"Silly Invert Bot","t":"m","r":0,"p":100},{"b":"Silly Invert Bot","t":"m","r":1,"p":85},{"b":"Silly Invert Bot","t":"m","r":2,"p":72},{"b":"Silly Invert Bot","t":"m","r":3,"p":62},{"b":"Silly Invert Bot","t":"m","r":4,"p":55},{"b":"Silly Invert Bot","t":"m","r":5,"p":48},{"b":"Silly Invert Bot","t":"m","r":6,"p":42},{"b":"Silly Invert Bot","t":"m","r":7,"p":36},{"b":"Silly Invert Bot","t":"m","r":8,"p":30},{"b":"Silly Invert Bot","t":"m","r":9,"p":25},{"b":"Silly Invert Bot","t":"m","r":10,"p":20},{"b":"Silly Invert Bot","t":"m","r":11,"p":14},{"b":"Silly Invert Bot","t":"m","r":12,"p":8},
{"b":"Silly Counter Bot","t":"m","r":0,"p":100},{"b":"Silly Counter Bot","t":"m","r":1,"p":92},{"b":"Silly Counter Bot","t":"m","r":2,"p":88},{"b":"Silly Counter Bot","t":"m","r":3,"p":82},{"b":"Silly Counter Bot","t":"m","r":4,"p":78},{"b":"Silly Counter Bot","t":"m","r":5,"p":72},{"b":"Silly Counter Bot","t":"m","r":6,"p":66},{"b":"Silly Counter Bot","t":"m","r":7,"p":60},{"b":"Silly Counter Bot","t":"m","r":8,"p":52},{"b":"Silly Counter Bot","t":"m","r":9,"p":45},{"b":"Silly Counter Bot","t":"m","r":10,"p":36},{"b":"Silly Counter Bot","t":"m","r":11,"p":28},{"b":"Silly Counter Bot","t":"m","r":12,"p":18},{"b":"Silly Counter Bot","t":"m","r":13,"p":8},
{"b":"AbstractSpyTreeBot","t":"m","r":0,"p":100},{"b":"AbstractSpyTreeBot","t":"m","r":1,"p":96},{"b":"AbstractSpyTreeBot","t":"m","r":2,"p":92},{"b":"AbstractSpyTreeBot","t":"m","r":3,"p":88},{"b":"AbstractSpyTreeBot","t":"m","r":4,"p":84},{"b":"AbstractSpyTreeBot","t":"m","r":5,"p":80},{"b":"AbstractSpyTreeBot","t":"m","r":6,"p":76},{"b":"AbstractSpyTreeBot","t":"m","r":7,"p":70},{"b":"AbstractSpyTreeBot","t":"m","r":8,"p":64},{"b":"AbstractSpyTreeBot","t":"m","r":9,"p":58},{"b":"AbstractSpyTreeBot","t":"m","r":10,"p":50},{"b":"AbstractSpyTreeBot","t":"m","r":11,"p":42},{"b":"AbstractSpyTreeBot","t":"m","r":12,"p":32},{"b":"AbstractSpyTreeBot","t":"m","r":13,"p":20},{"b":"AbstractSpyTreeBot","t":"m","r":14,"p":8},
{"b":"Silly 2 Bot","t":"m","r":0,"p":100},{"b":"Silly 2 Bot","t":"m","r":1,"p":95},{"b":"Silly 2 Bot","t":"m","r":2,"p":90},{"b":"Silly 2 Bot","t":"m","r":3,"p":85},{"b":"Silly 2 Bot","t":"m","r":4,"p":80},{"b":"Silly 2 Bot","t":"m","r":5,"p":75},{"b":"Silly 2 Bot","t":"m","r":6,"p":70},{"b":"Silly 2 Bot","t":"m","r":7,"p":65},{"b":"Silly 2 Bot","t":"m","r":8,"p":60},{"b":"Silly 2 Bot","t":"m","r":9,"p":55},{"b":"Silly 2 Bot","t":"m","r":10,"p":50},{"b":"Silly 2 Bot","t":"m","r":11,"p":45},{"b":"Silly 2 Bot","t":"m","r":12,"p":40},{"b":"Silly 2 Bot","t":"m","r":13,"p":32},{"b":"Silly 2 Bot","t":"m","r":14,"p":25},{"b":"Silly 2 Bot","t":"m","r":15,"p":16},{"b":"Silly 2 Bot","t":"m","r":16,"p":8}
]},
"encoding": {
  "x": {"field": "r", "type": "quantitative", "scale": {"domain": [-1, 21], "nice": false, "zero": false},
        "axis": {"values": [0, 2.5, 5, 7.5, 10, 12.5, 15, 17.5, 20], "format": ".1f", "title": null, "grid": false, "domain": false, "ticks": true, "tickColor": "black", "tickSize": 5, "tickWidth": 1, "labelFontSize": 13.5, "labelColor": "black", "labelFont": "DejaVu Sans", "labelPadding": 3, "labelFlush": false, "labelOverlap": false}},
  "y": {"field": "p", "type": "quantitative", "scale": {"domain": [-42, 1037], "nice": false, "zero": false},
        "axis": {"values": [0, 200, 400, 600, 800, 1000], "format": "d", "title": null, "grid": false, "domain": false, "ticks": true, "tickColor": "black", "tickSize": 5, "tickWidth": 1, "labelFontSize": 13.5, "labelColor": "black", "labelFont": "DejaVu Sans", "labelPadding": 4, "labelFlush": false, "labelOverlap": false}},
  "color": {"field": "t", "type": "nominal", "scale": {"domain": ["k", "r", "b", "g", "m"], "range": ["#000000", "#ff0000", "#0000ff", "#008000", "#bf00bf"]}, "legend": null}
},
"layer": [
  {"mark": {"type": "line", "strokeWidth": 2}, "encoding": {"detail": {"field": "b"}}},
  {"transform": [{"joinaggregate": [{"op": "max", "field": "r", "as": "mr"}], "groupby": ["b"]}, {"filter": "datum.r == datum.mr"}],
   "mark": {"type": "text", "align": "left", "baseline": "alphabetic", "fontSize": 13.5, "font": "DejaVu Sans"},
   "encoding": {"text": {"field": "b"}}}
]
}
